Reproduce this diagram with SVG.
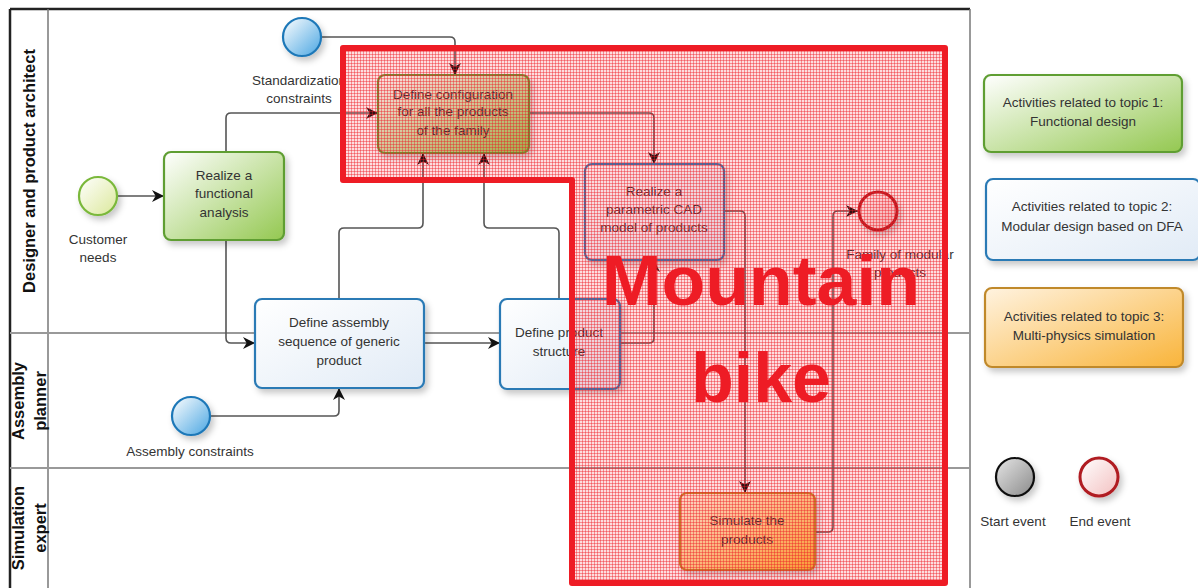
<svg xmlns="http://www.w3.org/2000/svg" width="1198" height="588" viewBox="0 0 1198 588">
<defs>
<style>
.t{font-family:"Liberation Sans",Arial,sans-serif;font-size:13.5px;fill:#333;text-anchor:middle}
.lane{font-family:"Liberation Sans",Arial,sans-serif;font-size:16.5px;font-weight:bold;fill:#111;text-anchor:middle}
.c{fill:none;stroke:#555;stroke-width:1.6;marker-end:url(#ah)}
.sep{stroke:#999;stroke-width:2}
.big{font-family:"Liberation Sans",Arial,sans-serif;font-size:70px;font-weight:bold;fill:#ee1c25;text-anchor:middle}
</style>
<linearGradient id="gGreen" x1="0" y1="0" x2="1" y2="1"><stop offset="0" stop-color="#ffffff"/><stop offset="1" stop-color="#94c851"/></linearGradient>
<linearGradient id="gBlue" x1="0" y1="0" x2="1" y2="1"><stop offset="0" stop-color="#ffffff"/><stop offset="1" stop-color="#e1ebf6"/></linearGradient>
<linearGradient id="gOrange" x1="0" y1="0" x2="1" y2="1"><stop offset="0" stop-color="#fff3e0"/><stop offset="1" stop-color="#f9b43a"/></linearGradient>
<linearGradient id="gCirBlue" x1="0" y1="0" x2="1" y2="1"><stop offset="0" stop-color="#ffffff"/><stop offset="1" stop-color="#4aa6e2"/></linearGradient>
<linearGradient id="gCirGreen" x1="0" y1="0" x2="1" y2="1"><stop offset="0" stop-color="#ffffff"/><stop offset="1" stop-color="#dbe89a"/></linearGradient>
<linearGradient id="gCirRed" x1="0" y1="0" x2="1" y2="1"><stop offset="0" stop-color="#ffffff"/><stop offset="1" stop-color="#f3c0c0"/></linearGradient>
<linearGradient id="gCirGray" x1="0" y1="0" x2="1" y2="1"><stop offset="0" stop-color="#e6e6e6"/><stop offset="1" stop-color="#8a8a8a"/></linearGradient>
<filter id="sh" x="-20%" y="-20%" width="150%" height="160%"><feDropShadow dx="3" dy="4" stdDeviation="3" flood-color="#000" flood-opacity="0.22"/></filter>
<marker id="ah" markerUnits="userSpaceOnUse" markerWidth="12" markerHeight="12" refX="10" refY="5" orient="auto" viewBox="0 0 10 10"><path d="M0,0 L10,5 L0,10 L3,5 z" fill="#111"/></marker>
<pattern id="hatch" width="3" height="3" patternUnits="userSpaceOnUse"><rect width="3" height="3" fill="#ee1c25" fill-opacity="0.15"/><path d="M0,0.5 H3 M0.5,0 V3" stroke="#ee1c25" stroke-opacity="0.42" stroke-width="1"/></pattern>
</defs>
<rect width="1198" height="588" fill="#ffffff"/>

<g id="pool">
<line x1="10" y1="9" x2="970" y2="9" stroke="#222" stroke-width="2.5"/>
<line x1="10" y1="9" x2="10" y2="588" stroke="#222" stroke-width="2.5"/>
<line x1="970" y1="9" x2="970" y2="588" stroke="#777" stroke-width="1.5"/>
<line x1="48" y1="9" x2="48" y2="588" stroke="#777" stroke-width="1.5"/>
<line class="sep" x1="10" y1="333" x2="970" y2="333"/>
<line class="sep" x1="10" y1="468" x2="970" y2="468"/>
<text class="lane" transform="translate(35,171) rotate(-90)">Designer and product architect</text>
<text class="lane" transform="translate(24,401) rotate(-90)">Assembly</text>
<text class="lane" transform="translate(46,401) rotate(-90)">planner</text>
<text class="lane" transform="translate(24,528) rotate(-90)">Simulation</text>
<text class="lane" transform="translate(46,528) rotate(-90)">expert</text>
</g>

<g id="connectors">
<path class="c" d="M118,196 H164"/>
<path class="c" d="M226,152 V118 Q226,113 231,113 H378"/>
<path class="c" d="M226,240 V338 Q226,343 231,343 H255"/>
<path class="c" d="M322,37 H450 Q455,37 455,42 V75"/>
<path class="c" d="M339,299 V233 Q339,228 344,228 H418 Q423,228 423,223 V153"/>
<path class="c" d="M559,299 V233 Q559,228 554,228 H489 Q484,228 484,223 V153"/>
<path class="c" d="M424,343 H500"/>
<path class="c" d="M211,416 H334 Q339,416 339,411 V388"/>
<path class="c" d="M529,113 H649 Q654,113 654,118 V164"/>
<path class="c" d="M620,343 H649 Q654,343 654,338 V260"/>
<path class="c" d="M724,211 H740 Q745,211 745,216 V493"/>
<path class="c" d="M815,532 H828 Q833,532 833,527 V216 Q833,211 838,211 H858"/>
</g>

<g id="customer-needs">
<circle cx="98" cy="196" r="19" fill="url(#gCirGreen)" stroke="#7ab83a" stroke-width="2.2" filter="url(#sh)"/>
<text class="t" x="98" y="244">Customer</text>
<text class="t" x="98" y="262">needs</text>
</g>
<g id="standardization-constraints">
<circle cx="302" cy="37" r="19" fill="url(#gCirBlue)" stroke="#1f78b8" stroke-width="2.2" filter="url(#sh)"/>
<text class="t" x="299" y="85">Standardization</text>
<text class="t" x="299" y="103">constraints</text>
</g>
<g id="realize-functional-analysis">
<rect x="164" y="152" width="120" height="88" rx="7" fill="url(#gGreen)" stroke="#5f9e33" stroke-width="2.2" filter="url(#sh)"/>
<text class="t" x="224" y="180">Realize a</text>
<text class="t" x="224" y="198">functional</text>
<text class="t" x="224" y="217">analysis</text>
</g>
<g id="define-configuration">
<rect x="378" y="75" width="151" height="78" rx="7" fill="url(#gGreen)" stroke="#5f9e33" stroke-width="2.2" filter="url(#sh)"/>
<text class="t" x="453" y="99">Define configuration</text>
<text class="t" x="453" y="116">for all the products</text>
<text class="t" x="453" y="135">of the family</text>
</g>
<g id="realize-parametric-cad">
<rect x="585" y="164" width="139" height="96" rx="7" fill="url(#gBlue)" stroke="#2a7ab5" stroke-width="2.2" filter="url(#sh)"/>
<text class="t" x="654" y="196">Realize a</text>
<text class="t" x="654" y="214">parametric CAD</text>
<text class="t" x="654" y="232">model of products</text>
</g>
<g id="family-of-modular-products">
<circle cx="878" cy="211" r="19" fill="url(#gCirRed)" stroke="#b01c20" stroke-width="3" filter="url(#sh)"/>
<text class="t" x="900" y="259">Family of modular</text>
<text class="t" x="900" y="277">products</text>
</g>
<g id="define-assembly-sequence">
<rect x="255" y="299" width="169" height="89" rx="7" fill="url(#gBlue)" stroke="#2a7ab5" stroke-width="2.2" filter="url(#sh)"/>
<text class="t" x="339" y="327">Define assembly</text>
<text class="t" x="339" y="346">sequence of generic</text>
<text class="t" x="339" y="365">product</text>
</g>
<g id="define-product-structure">
<rect x="500" y="299" width="120" height="90" rx="7" fill="url(#gBlue)" stroke="#2a7ab5" stroke-width="2.2" filter="url(#sh)"/>
<text class="t" x="559" y="337">Define product</text>
<text class="t" x="559" y="356">structure</text>
</g>
<g id="assembly-constraints">
<circle cx="191" cy="416" r="19" fill="url(#gCirBlue)" stroke="#1f78b8" stroke-width="2.2" filter="url(#sh)"/>
<text class="t" x="190" y="456">Assembly constraints</text>
</g>
<g id="simulate-products">
<rect x="680" y="493" width="135" height="77" rx="7" fill="url(#gOrange)" stroke="#c0892c" stroke-width="2.2" filter="url(#sh)"/>
<text class="t" x="747" y="525">Simulate the</text>
<text class="t" x="747" y="544">products</text>
</g>

<g id="legend-topic1">
<rect x="984" y="75" width="198" height="77" rx="7" fill="url(#gGreen)" stroke="#5f9e33" stroke-width="2.2" filter="url(#sh)"/>
<text class="t" x="1083" y="107">Activities related to topic 1:</text>
<text class="t" x="1083" y="126">Functional design</text>
</g>
<g id="legend-topic2">
<rect x="986" y="179" width="214" height="81" rx="7" fill="url(#gBlue)" stroke="#2a7ab5" stroke-width="2.2" filter="url(#sh)"/>
<text class="t" x="1092" y="211">Activities related to topic 2:</text>
<text class="t" x="1092" y="231">Modular design based on DFA</text>
</g>
<g id="legend-topic3">
<rect x="985" y="288" width="198" height="79" rx="7" fill="url(#gOrange)" stroke="#c0892c" stroke-width="2.2" filter="url(#sh)"/>
<text class="t" x="1084" y="321">Activities related to topic 3:</text>
<text class="t" x="1084" y="340">Multi-physics simulation</text>
</g>
<g id="legend-start-event">
<circle cx="1015" cy="477" r="19" fill="url(#gCirGray)" stroke="#111" stroke-width="2.2" filter="url(#sh)"/>
<text class="t" x="1013" y="526">Start event</text>
</g>
<g id="legend-end-event">
<circle cx="1099" cy="477" r="19" fill="url(#gCirRed)" stroke="#b01c20" stroke-width="3" filter="url(#sh)"/>
<text class="t" x="1100" y="526">End event</text>
</g>

<g id="mountain-bike-overlay">
<path d="M343,48 H945 V583 H572 V180 H343 Z" fill="url(#hatch)" stroke="#ee1c25" stroke-width="6" stroke-linejoin="round"/>
<text class="big" x="761" y="305" textLength="318" lengthAdjust="spacingAndGlyphs">Mountain</text>
<text class="big" x="761" y="402">bike</text>
</g>
</svg>
